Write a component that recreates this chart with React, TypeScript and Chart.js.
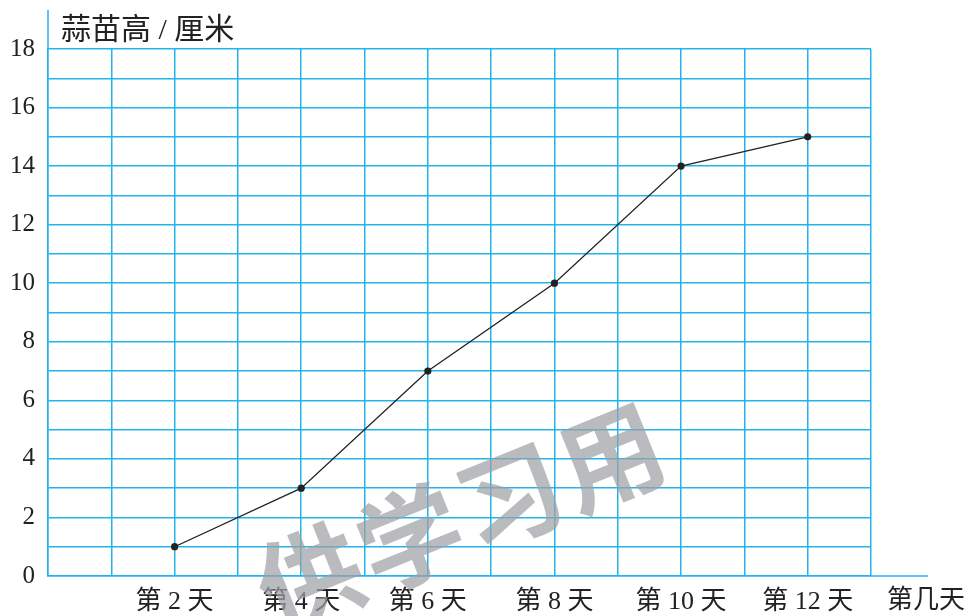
import React, { useEffect, useRef } from "react";
import { Chart, registerables } from "chart.js";

Chart.register(...registerables);

const days = [2, 4, 6, 8, 10, 12];
const heights = [1, 3, 7, 10, 14, 15];
const xTickLabels: Record<number, string> = { 2: "第 2 天", 4: "第 4 天", 6: "第 6 天", 8: "第 8 天", 10: "第 10 天", 12: "第 12 天" };
const yLabelValues = [0, 2, 4, 6, 8, 10, 12, 14, 16, 18];
const yTitle = "蒜苗高 / 厘米";
const xTitle = "第几天";
const watermark = ["供", "学", "习", "用"];

const GRID = "#22b4ea";
const SERIF = "'Liberation Serif', 'Noto Sans CJK SC', serif";

const extrasPlugin = {
  id: "extras",
  afterDraw(chart: any) {
    const { ctx, chartArea, scales } = chart;
    const y = scales.y;
    ctx.save();
    // axis extensions
    ctx.strokeStyle = GRID;
    ctx.lineWidth = 1.5;
    ctx.beginPath();
    ctx.moveTo(chartArea.left, chartArea.top);
    ctx.lineTo(chartArea.left, 10);
    ctx.moveTo(chartArea.right, y.getPixelForValue(0));
    ctx.lineTo(928, y.getPixelForValue(0));
    ctx.stroke();
    // titles
    ctx.fillStyle = "#222";
    ctx.font = "30px " + SERIF;
    ctx.textAlign = "left";
    ctx.textBaseline = "middle";
    ctx.fillText(yTitle, 61, 31);
    ctx.font = "26px " + SERIF;
    ctx.textAlign = "center";
    ctx.fillText(xTitle, 926, 601);
    // watermark
    ctx.fillStyle = "rgba(160,161,165,0.72)";
    ctx.font = "bold 104px 'Noto Sans CJK SC', serif";
    ctx.textAlign = "center";
    ctx.textBaseline = "middle";
    const angle = -22 * Math.PI / 180;
    const cx0 = 310, cy0 = 578, step = 108;
    watermark.forEach((ch, i) => {
      ctx.save();
      ctx.translate(cx0 + Math.cos(angle) * step * i, cy0 + Math.sin(angle) * step * i);
      ctx.rotate(angle);
      ctx.fillText(ch, 0, 0);
      ctx.restore();
    });
    ctx.restore();
  },
};

export default function App() {
  const ref = useRef<HTMLCanvasElement | null>(null);
  useEffect(() => {
    if (!ref.current) return;
    const chart = new Chart(ref.current, {
      type: "line",
      data: {
        datasets: [
          {
            data: days.map((d, i) => ({ x: d, y: heights[i] })),
            borderColor: "#222",
            borderWidth: 1.3,
            pointRadius: 3.6,
            pointBackgroundColor: "#222",
            pointBorderColor: "#222",
            pointBorderWidth: 0,
            tension: 0,
          },
        ],
      },
      options: {
        animation: false,
        responsive: false,
        maintainAspectRatio: false,
        layout: { padding: { top: 49, right: 99, left: 0, bottom: 0 } },
        plugins: { legend: { display: false }, tooltip: { enabled: false } },
        scales: {
          x: {
            type: "linear",
            min: 0,
            max: 13,
            afterFit(scale: any) { scale.height = 40; },
            grid: { color: GRID, lineWidth: 1.5, drawTicks: false },
            border: { color: GRID, width: 1.5 },
            ticks: {
              stepSize: 1,
              autoSkip: false,
              maxRotation: 0,
              padding: 11,
              color: "#222",
              font: { family: SERIF, size: 26 },
              callback: (v: any) => xTickLabels[v as number] ?? "",
            },
          },
          y: {
            type: "linear",
            min: 0,
            max: 18,
            afterFit(scale: any) { scale.width = 48; },
            grid: { color: GRID, lineWidth: 1.5, drawTicks: false },
            border: { color: GRID, width: 1.5 },
            ticks: {
              stepSize: 1,
              autoSkip: false,
              padding: 13,
              color: "#222",
              font: { family: SERIF, size: 25 },
              callback: (v: any) => (yLabelValues.includes(v as number) ? String(v) : ""),
            },
          },
        },
      },
      plugins: [extrasPlugin],
    } as any);
    return () => chart.destroy();
  }, []);
  return (
    <div style={{ position: "absolute", left: 0, top: 0, width: 970, height: 616, background: "#fff" }}>
      <canvas ref={ref} width={970} height={616} style={{ width: 970, height: 616 }} />
    </div>
  );
}
